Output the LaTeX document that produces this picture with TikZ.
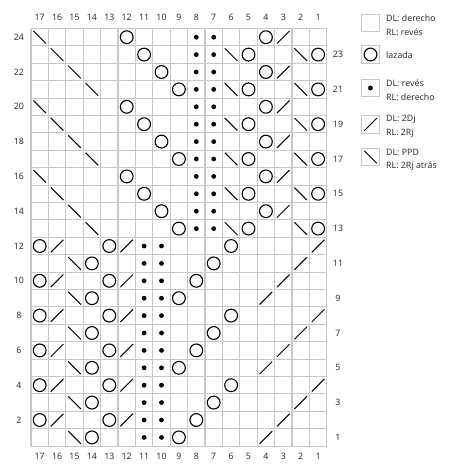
\documentclass[tikz,border=0pt]{standalone}
\usepackage{fontspec}
\setmainfont{Noto Sans}
\definecolor{gridc}{RGB}{200,200,200}
\definecolor{txtc}{RGB}{50,50,50}
\begin{document}
\begin{tikzpicture}[x=1pt,y=-1pt,
  gridl/.style={draw=gridc, line width=1.1pt},
  symline/.style={draw=black, line width=1.1pt},
  lbl/.style={font=\fontsize{8.8}{10}\selectfont, text=txtc, inner sep=0pt},
  legtxt/.style={font=\fontsize{8.8}{10}\selectfont, text=txtc, inner sep=0pt, anchor=west},
  legbox/.style={draw=gridc, line width=1.1pt, minimum size=17.4pt, inner sep=0pt, fill=white},
  yo/.pic={\draw[symline] (0,0) circle[radius=6.4];},
  bk/.pic={\draw[symline, line width=1pt] (-6.3,-6.3) -- (6.3,6.3);},
  fw/.pic={\draw[symline, line width=1pt] (-6.3,6.3) -- (6.3,-6.3);},
  dt/.pic={\fill[black] (0,0) circle[radius=2.4];}
]
\useasboundingbox (0,0) rectangle (454,466);
\fill[white] (0,0) rectangle (454,466);
% cell centres
\foreach \c in {1,...,17} {
  \foreach \r in {1,...,24} {
    \coordinate (p-\c-\r) at ({31+(17.5-\c)*17.4},{28.5+(24.5-\r)*17.4});
  }
}
% grid
\foreach \i in {0,...,17} \draw[gridl] ({31+\i*17.4},28.5) -- ({31+\i*17.4},446.1);
\foreach \j in {0,...,24} \draw[gridl] (31,{28.5+\j*17.4}) -- (326.8,{28.5+\j*17.4});
% upper block
\foreach \k in {0,4,8} {
  \pgfmathtruncatemacro\ra{24-\k}
  \pgfmathtruncatemacro\rb{23-\k}
  \pgfmathtruncatemacro\rc{22-\k}
  \pgfmathtruncatemacro\rd{21-\k}
  \pic at (p-17-\ra) {bk}; \pic at (p-12-\ra) {yo}; \pic at (p-4-\ra) {yo}; \pic at (p-3-\ra) {fw};
  \pic at (p-16-\rb) {bk}; \pic at (p-11-\rb) {yo}; \pic at (p-6-\rb) {bk}; \pic at (p-5-\rb) {yo}; \pic at (p-2-\rb) {bk}; \pic at (p-1-\rb) {yo};
  \pic at (p-15-\rc) {bk}; \pic at (p-10-\rc) {yo}; \pic at (p-4-\rc) {yo}; \pic at (p-3-\rc) {fw};
  \pic at (p-14-\rd) {bk}; \pic at (p-9-\rd) {yo}; \pic at (p-6-\rd) {bk}; \pic at (p-5-\rd) {yo}; \pic at (p-2-\rd) {bk}; \pic at (p-1-\rd) {yo};
  % lower block
  \pgfmathtruncatemacro\re{12-\k}
  \pgfmathtruncatemacro\rf{11-\k}
  \pgfmathtruncatemacro\rg{10-\k}
  \pgfmathtruncatemacro\rh{9-\k}
  \pic at (p-17-\re) {yo}; \pic at (p-16-\re) {fw}; \pic at (p-13-\re) {yo}; \pic at (p-12-\re) {fw}; \pic at (p-6-\re) {yo}; \pic at (p-1-\re) {fw};
  \pic at (p-15-\rf) {bk}; \pic at (p-14-\rf) {yo}; \pic at (p-7-\rf) {yo}; \pic at (p-2-\rf) {fw};
  \pic at (p-17-\rg) {yo}; \pic at (p-16-\rg) {fw}; \pic at (p-13-\rg) {yo}; \pic at (p-12-\rg) {fw}; \pic at (p-8-\rg) {yo}; \pic at (p-3-\rg) {fw};
  \pic at (p-15-\rh) {bk}; \pic at (p-14-\rh) {yo}; \pic at (p-9-\rh) {yo}; \pic at (p-4-\rh) {fw};
}
% purl dots
\foreach \r in {13,...,24} { \pic at (p-8-\r) {dt}; \pic at (p-7-\r) {dt}; }
\foreach \r in {1,...,12} { \pic at (p-11-\r) {dt}; \pic at (p-10-\r) {dt}; }
% column labels
\foreach \c in {1,...,17} {
  \node[lbl] (top\c) at ({31+(17.5-\c)*17.4},17) {\c};
  \node[lbl] (bot\c) at ({31+(17.5-\c)*17.4},456) {\c};
}
% row labels
\foreach \r in {2,4,...,24} \node[lbl] (left\r) at (19,{28.5+(24.5-\r)*17.4}) {\r};
\foreach \r in {1,3,...,23} \node[lbl] (right\r) at (338,{28.5+(24.5-\r)*17.4}) {\r};
% legend
\node[legbox] (lb1) at (370.5,23) {};
\node[legbox] (lb2) at (370.5,54.5) {};
\node[legbox] (lb3) at (370.5,88) {};
\node[legbox] (lb4) at (370.5,124.5) {};
\node[legbox] (lb5) at (370.5,157) {};
\pic at (lb2) {yo};
\pic at (lb3) {dt};
\pic at (lb4) {fw};
\pic at (lb5) {bk};
\node[legtxt] (t1a) at (386,18) {DL: derecho};
\node[legtxt] (t1b) at (386,32.5) {RL: revés};
\node[legtxt] (t2) at (386,55) {lazada};
\node[legtxt] (t3a) at (386,83) {DL: revés};
\node[legtxt] (t3b) at (386,97) {RL: derecho};
\node[legtxt] (t4a) at (386,119) {DL: 2Dj};
\node[legtxt] (t4b) at (386,133.5) {RL: 2Rj};
\node[legtxt] (t5a) at (386,152) {DL: PPD};
\node[legtxt] (t5b) at (386,166.5) {RL: 2Rj atrás};
\end{tikzpicture}
\end{document}
